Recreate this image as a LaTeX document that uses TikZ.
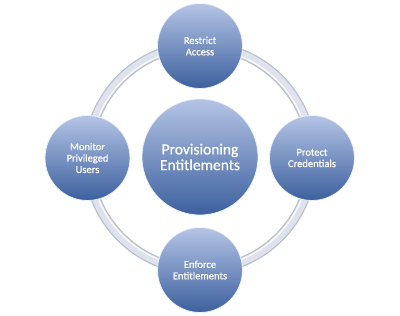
\documentclass[tikz,border=0pt]{standalone}
\usepackage{fontspec}
\setmainfont{Carlito}[FakeBold=1.2]
\newfontfamily\lblfont{Carlito}[FakeBold=0.6]
\definecolor{ctop}{RGB}{180,196,230}
\definecolor{cbot}{RGB}{60,96,158}
\definecolor{ringedge}{RGB}{182,189,204}
\definecolor{ringfill}{RGB}{222,226,236}
\tikzset{
  bubble/.style={circle, inner sep=0pt, top color=ctop, bottom color=cbot,
    draw=white!75!ctop, line width=0.8pt, text=white, align=center,
    font=\lblfont\fontsize{10.5}{11.4}\selectfont},
  bigbubble/.style={bubble, minimum size=116pt, font=\lblfont\fontsize{15.5}{15.7}\selectfont},
  smallbubble/.style={bubble, minimum size=85pt},
}
\begin{document}
\begin{tikzpicture}[x=1pt,y=-1pt]
\useasboundingbox (0,0) rectangle (400,316);
\coordinate (rc) at (200,158);
\draw[line width=10pt, ringedge] (rc) circle (112);
\draw[line width=7.5pt, ringfill] (rc) circle (112);
\draw[line width=1.2pt, white!90!ringfill] (rc) circle (109.5);
\node[bigbubble] (center) at (200,157) {Provisioning\\Entitlements};
\node[smallbubble] (top) at (200,46) {Restrict\\Access};
\node[smallbubble] (right) at (312,158) {Protect\\Credentials};
\node[smallbubble] (bottom) at (200,270) {Enforce\\Entitlements};
\node[smallbubble] (left) at (87.5,158) {Monitor\\Privileged\\Users};
\end{tikzpicture}
\end{document}
